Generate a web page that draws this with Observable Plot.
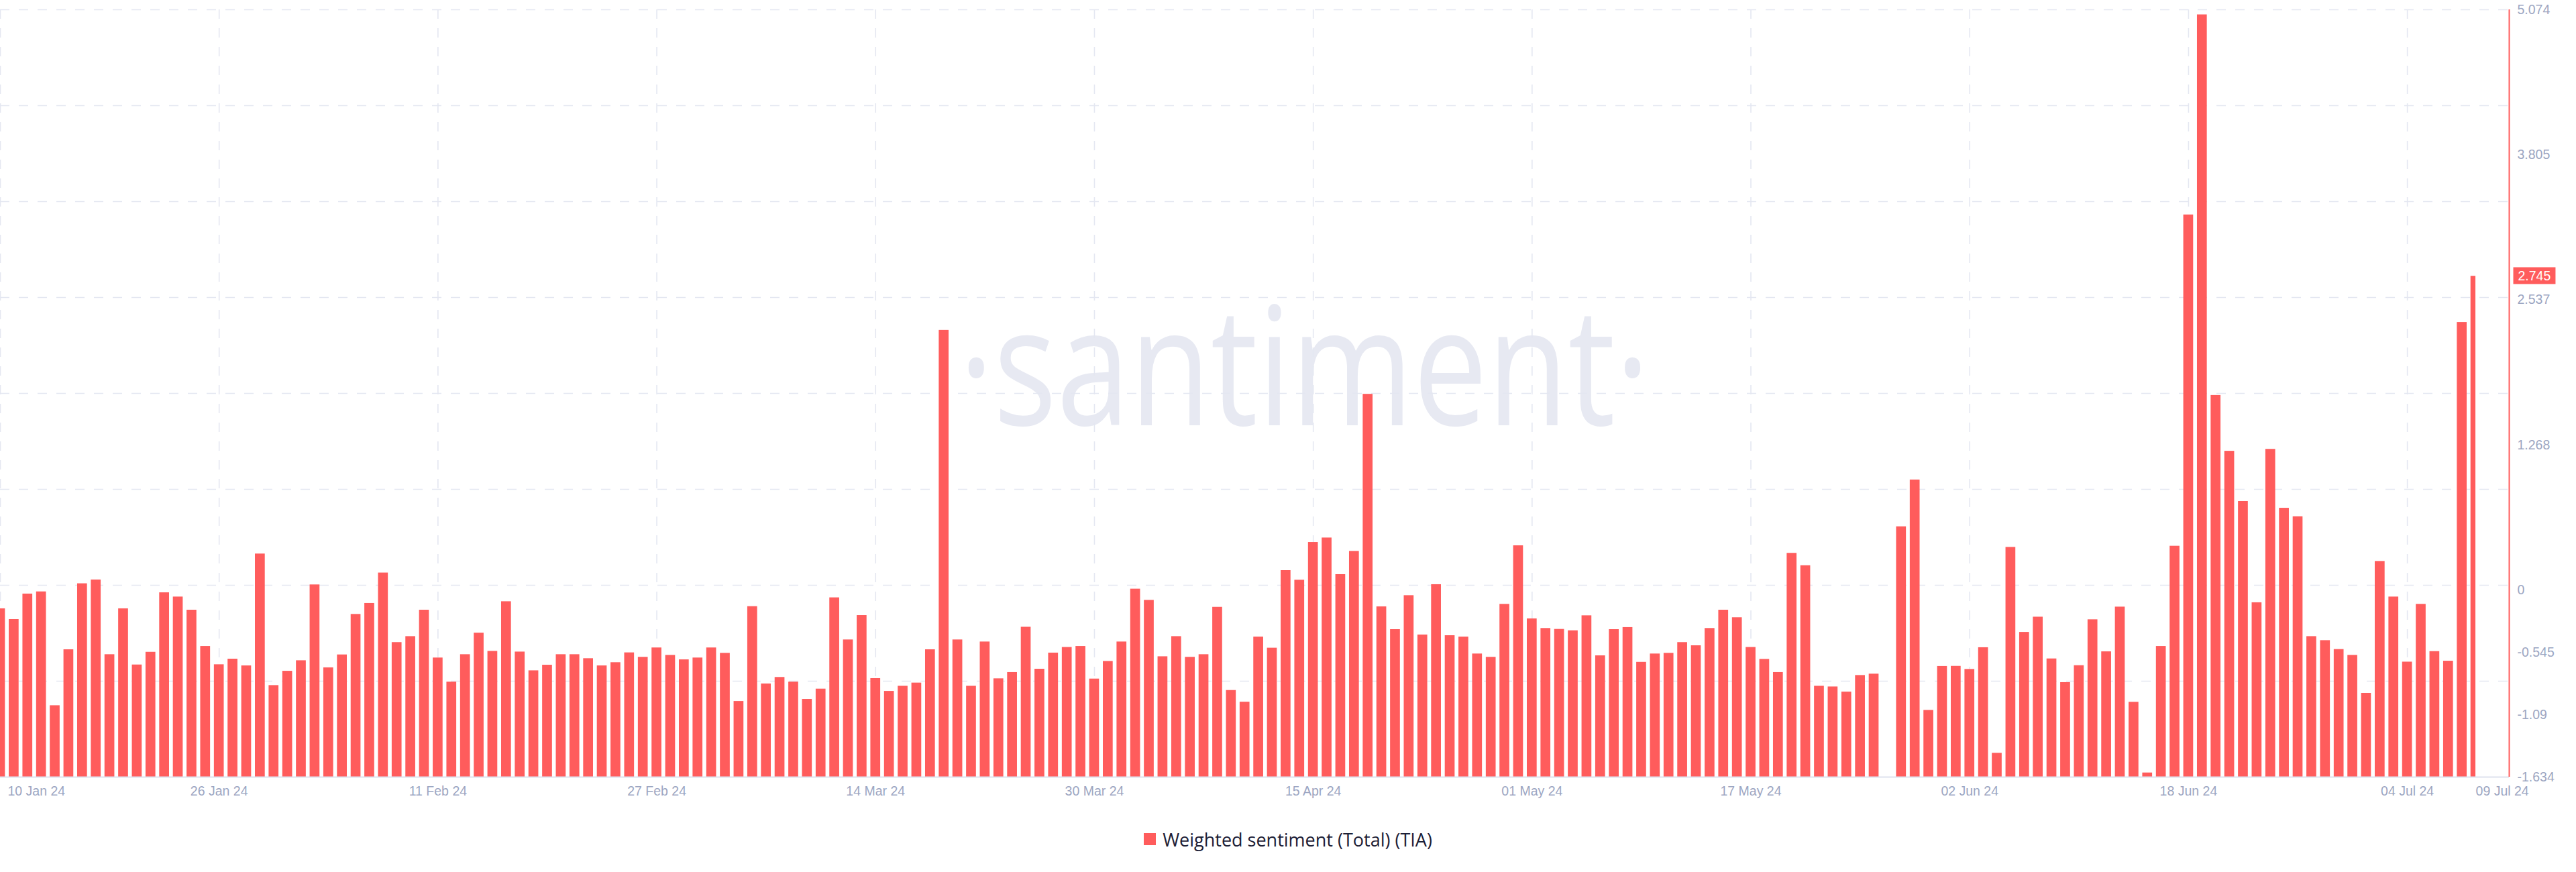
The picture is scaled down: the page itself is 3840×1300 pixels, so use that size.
<!DOCTYPE html>
<html>
<head>
<meta charset="utf-8">
<script src="https://cdn.jsdelivr.net/npm/d3@7"></script>
<script src="https://cdn.jsdelivr.net/npm/@observablehq/plot@0.6"></script>
<style>
  body { margin: 0; background: #ffffff; }
  #legend { height: 72px; display: flex; align-items: center; justify-content: center;
            font-family: "Open Sans", Roboto, sans-serif; font-size: 27px; color: #1c2036; }
  #legend .sw { width: 18px; height: 18px; background: #FF5C5C; margin-right: 10px; }
</style>
</head>
<body>
<div id="chart"></div>
<div id="legend"><span class="sw"></span><span>Weighted sentiment (Total) (TIA)</span></div>
<script>
// ---------- data ----------
const startDate = "2024-01-10";           // first daily bar
const seriesName = "Weighted sentiment (Total) (TIA)";
const values = [
  -0.162, -0.256, -0.033, -0.014, -1.009, -0.520, 0.057, 0.090, -0.563, -0.162,
  -0.653, -0.542, -0.022, -0.059, -0.174, -0.491, -0.651, -0.602, -0.661, 0.317,
  -0.833, -0.708, -0.616, 0.047, -0.678, -0.565, -0.211, -0.115, 0.151, -0.457,
  -0.405, -0.174, -0.592, -0.803, -0.563, -0.375, -0.534, -0.100, -0.540, -0.704,
  -0.655, -0.563, -0.563, -0.598, -0.661, -0.633, -0.547, -0.586, -0.504, -0.569,
  -0.608, -0.592, -0.504, -0.551, -0.972, -0.143, -0.819, -0.762, -0.803, -0.954,
  -0.864, -0.066, -0.434, -0.221, -0.772, -0.884, -0.839, -0.811, -0.520, 2.272,
  -0.434, -0.839, -0.452, -0.774, -0.719, -0.323, -0.690, -0.549, -0.500, -0.491,
  -0.776, -0.622, -0.452, 0.010, -0.088, -0.581, -0.405, -0.586, -0.563, -0.149,
  -0.876, -0.978, -0.409, -0.506, 0.172, 0.088, 0.418, 0.457, 0.137, 0.340,
  1.713, -0.145, -0.344, -0.047, -0.391, 0.049, -0.397, -0.409, -0.557, -0.586,
  -0.123, 0.389, -0.250, -0.334, -0.342, -0.354, -0.223, -0.573, -0.344, -0.326,
  -0.630, -0.557, -0.551, -0.457, -0.485, -0.334, -0.174, -0.240, -0.500, -0.604,
  -0.719, 0.323, 0.215, -0.839, -0.845, -0.890, -0.745, -0.733, null, 0.555,
  0.964, -1.050, -0.666, -0.665, -0.692, -0.502, -1.425, 0.375, -0.368, -0.235,
  -0.600, -0.807, -0.659, -0.258, -0.538, -0.147, -0.979, -1.597, -0.491, 0.385,
  3.281, 5.030, 1.703, 1.215, 0.776, -0.109, 1.232, 0.717, 0.643, -0.405,
  -0.440, -0.518, -0.569, -0.901, 0.252, -0.059, -0.628, -0.123, -0.536, -0.620,
  2.341, 2.745
];
const tickDates = ["2024-01-10", "2024-01-26", "2024-02-11", "2024-02-27", "2024-03-14", "2024-03-30",
                   "2024-04-15", "2024-05-01", "2024-05-17", "2024-06-02", "2024-06-18", "2024-07-04"];
const lastDateLabel = "2024-07-09";
const yTicks = [-1.634, -1.09, -0.545, 0, 1.268, 2.537, 3.805, 5.074];
const yDomain = [-1.634, 5.074];
const xDomainEnd = "2024-07-11T10:48:00Z";   // right edge of the plot (y axis line)
const watermark = "·santiment·";

// ---------- build ----------
const DAY = 864e5;
const t0 = Date.parse(startDate);
const data = values.map((v, i) => ({date: new Date(t0 + i * DAY), value: v}));
const firstT = +data[0].date, lastT = +data[data.length - 1].date;
const bars = data.filter(d => d.value != null);
const halfW = 0.36 * DAY;
const lastValue = values[values.length - 1];
const gridVals = d3.range(8).map(i => yDomain[1] - i * (yDomain[1] - yDomain[0]) / 8);
const fmt = d3.utcFormat("%d %b %y");

const red = "#FF5C5C";
const gridColor = "#E4E7F1";
const labelColor = "#9CA6C2";
const labelFont = "'Liberation Sans', Arial, sans-serif";

const chart = Plot.plot({
  width: 3840,
  height: 1215,
  marginTop: 14,
  marginBottom: 57,
  marginLeft: 0,
  marginRight: 100,
  style: {background: "#ffffff", overflow: "visible"},
  x: {type: "utc", domain: [new Date(t0), new Date(xDomainEnd)], axis: null},
  y: {domain: yDomain, axis: null},
  marks: [
    Plot.text([watermark], {frameAnchor: "middle", text: d => d, dx: 74, dy: 47, lineAnchor: "bottom",
      textAnchor: "middle", fontSize: 245, fontFamily: "'Open Sans', sans-serif", fontWeight: 400, fill: "#E7E9F2"}),
    Plot.ruleY(gridVals, {y: d => d, stroke: gridColor, strokeWidth: 1.6, strokeDasharray: "14,14"}),
    Plot.ruleX(tickDates, {x: d => new Date(d), stroke: gridColor, strokeWidth: 1.6, strokeDasharray: "14,14"}),
    Plot.rect(bars, {
      x1: d => new Date(Math.max(+d.date - halfW, firstT)),
      x2: d => new Date(Math.min(+d.date + halfW, lastT)),
      y1: yDomain[0], y2: "value", fill: red
    }),
    Plot.ruleY([yDomain[0]], {y: d => d, stroke: "#DEE2EE", strokeWidth: 2}),
    Plot.ruleX([xDomainEnd], {x: d => new Date(d), stroke: red, strokeWidth: 2}),
    // y tick labels
    Plot.text(yTicks, {y: d => d, text: d => String(d), frameAnchor: "right", textAnchor: "start", dx: 12,
      lineAnchor: "middle", fill: labelColor, fontSize: 19.5, fontFamily: labelFont}),
    // last value label
    Plot.text([lastValue], {y: d => d, text: d => String(d), frameAnchor: "right", textAnchor: "start", dx: 13,
      lineAnchor: "middle", fill: "#ffffff", fontSize: 19.5, fontFamily: labelFont}),
    // x tick labels
    Plot.text(tickDates.slice(1), {x: d => new Date(d), text: d => fmt(new Date(d)), frameAnchor: "bottom", dy: 21,
      lineAnchor: "middle", textAnchor: "middle", fill: labelColor, fontSize: 19.5, fontFamily: labelFont}),
    Plot.text(tickDates.slice(0, 1), {x: d => new Date(d), text: d => fmt(new Date(d)), frameAnchor: "bottom", dy: 21, dx: 11,
      lineAnchor: "middle", textAnchor: "start", fill: labelColor, fontSize: 19.5, fontFamily: labelFont}),
    Plot.text([lastDateLabel], {x: d => new Date(d), text: d => fmt(new Date(d)), frameAnchor: "bottom", dy: 21,
      lineAnchor: "middle", textAnchor: "start", fill: labelColor, fontSize: 19.5, fontFamily: labelFont})
  ]
});
document.getElementById("chart").appendChild(chart);

// watermark condensed like the original logo
chart.querySelectorAll("text").forEach(t => {
  if (t.textContent === watermark) {
    t.setAttribute("textLength", 1030);
    t.setAttribute("lengthAdjust", "spacingAndGlyphs");
  }
});
// red badge behind the last value label
chart.querySelectorAll("text").forEach(t => {
  if (t.textContent === String(lastValue) && t.parentNode.getAttribute("fill") === "#ffffff") {
    const bb = t.getBBox();
    const r = document.createElementNS("http://www.w3.org/2000/svg", "rect");
    r.setAttribute("x", bb.x - 7);
    r.setAttribute("width", bb.width + 14);
    r.setAttribute("y", bb.y + bb.height / 2 - 12.5);
    r.setAttribute("height", 25);
    r.setAttribute("fill", red);
    const tr = t.getAttribute("transform");
    if (tr) r.setAttribute("transform", tr);
    t.parentNode.insertBefore(r, t);
  }
});
</script>
</body>
</html>
